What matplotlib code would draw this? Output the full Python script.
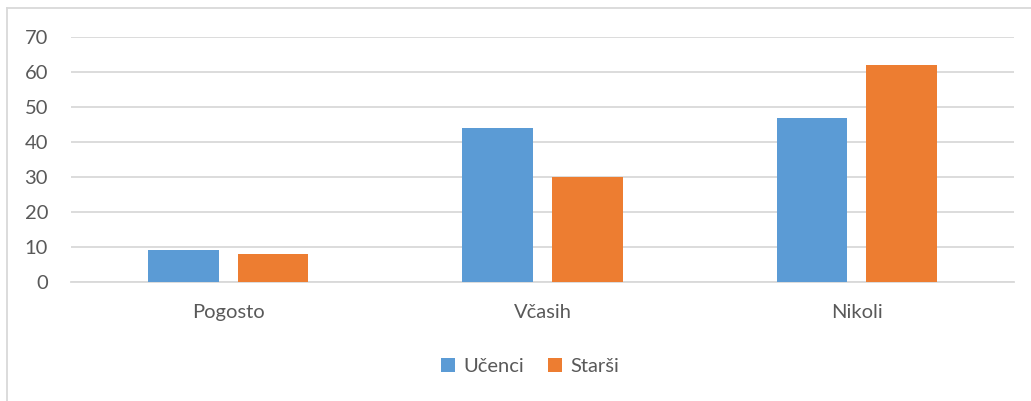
import matplotlib
matplotlib.use("Agg")
import matplotlib.pyplot as plt
from matplotlib.lines import Line2D
import numpy as np

plt.rcParams["font.family"] = ["Lato", "DejaVu Sans"]

categories = ["Pogosto", "Včasih", "Nikoli"]
ucenci = [9, 44, 47]
starsi = [8, 30, 62]
series_names = ["Učenci", "Starši"]
yticks = [0, 10, 20, 30, 40, 50, 60, 70]

blue = "#5B9BD5"
orange = "#ED7D31"
grey_text = "#595959"
grid_col = "#D9D9D9"

fig = plt.figure(figsize=(10.31, 4.01), dpi=100)
ax = fig.add_axes([0.0689, 0.2968, 0.9146, 0.6109])

x = np.arange(len(categories))
w = 0.225
off = 0.1425
ax.bar(x - off, ucenci, w, color=blue, label=series_names[0], zorder=3)
ax.bar(x + off, starsi, w, color=orange, label=series_names[1], zorder=3)

ax.set_xlim(-0.5, 2.5)
ax.set_ylim(0, 70)
ax.set_yticks(yticks)
ax.set_xticks(x)
ax.set_xticklabels(categories)
ax.grid(axis="y", color=grid_col, linewidth=1.3, zorder=0)
ax.set_axisbelow(True)
for s in ["top", "right", "left"]:
    ax.spines[s].set_visible(False)
ax.spines["bottom"].set_color(grid_col)
ax.spines["bottom"].set_linewidth(1.3)
ax.tick_params(axis="both", length=0, labelsize=14.5, colors=grey_text)
ax.tick_params(axis="y", pad=16.5)
ax.tick_params(axis="x", pad=15.5)

leg = fig.legend(loc="center", bbox_to_anchor=(0.514, 0.085), ncol=2, frameon=False,
                 fontsize=14.5, handlelength=0.7, handleheight=0.7,
                 handletextpad=0.4, columnspacing=1.2)
for t in leg.get_texts():
    t.set_color(grey_text)

# chart area border (only left and top visible in the crop)
fig.add_artist(Line2D([7 / 1031, 7 / 1031], [0, 1 - 8 / 401], transform=fig.transFigure,
                      color=grid_col, linewidth=1.3))
fig.add_artist(Line2D([7 / 1031, 1], [1 - 8 / 401, 1 - 8 / 401], transform=fig.transFigure,
                      color=grid_col, linewidth=1.3))

fig.savefig("out.png", dpi=100)
